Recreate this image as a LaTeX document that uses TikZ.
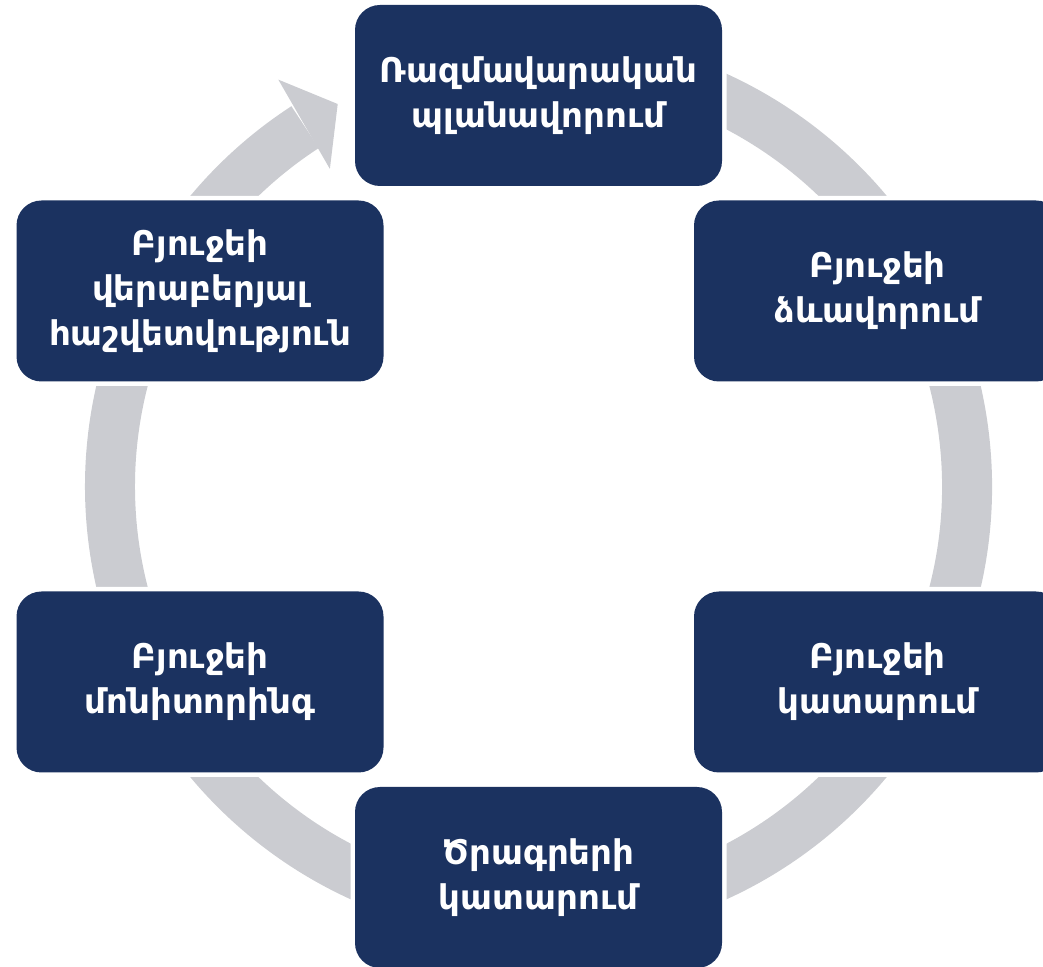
\documentclass[tikz,border=0pt]{standalone}
\usepackage{fontspec}
\setmainfont{DejaVu Sans}
\usetikzlibrary{calc}
\definecolor{navy}{HTML}{1B3260}
\definecolor{ringgray}{HTML}{CBCCD1}
\begin{document}
\begin{tikzpicture}[x=1pt,y=1pt,
  stage/.style={draw=none, fill=navy, text=white, rounded corners=25pt,
    minimum width=367pt, minimum height=181pt, inner sep=0pt, align=center,
    font=\fontsize{34}{45}\selectfont\bfseries,
    preaction={draw=white, line width=9pt}},
  ringline/.style={draw=ringgray, line width=50pt}]
\useasboundingbox (0,0) rectangle (1043,966);
\clip (0,0) rectangle (1043,966);
\coordinate (C) at (538.5,479.5);
% ring with arrow
\draw[ringline] ($(C)+(100:428.5)$) arc[start angle=100, end angle=-237, radius=428.5];
\coordinate (h1) at ($(C)+(123.3:380)$);
\coordinate (h2) at ($(C)+(117.7:432)$);
\coordinate (h3) at ($(C)+(122.6:483)$);
\fill[ringgray] (h1) -- (h2) -- (h3) -- cycle;
% stages
\node[stage] (top) at (538.5,870.5) {Ռազմավարական\\պլանավորում};
\node[stage] (ru) at (877.5,675) {Բյուջեի\\ձևավորում};
\node[stage] (rl) at (877.5,284) {Բյուջեի\\կատարում};
\node[stage] (bot) at (538.5,88.5) {Ծրագրերի\\կատարում};
\node[stage] (ll) at (200,284) {Բյուջեի\\մոնիտորինգ};
\node[stage] (lu) at (200,675) {Բյուջեի\\վերաբերյալ\\հաշվետվություն};
\end{tikzpicture}
\end{document}
